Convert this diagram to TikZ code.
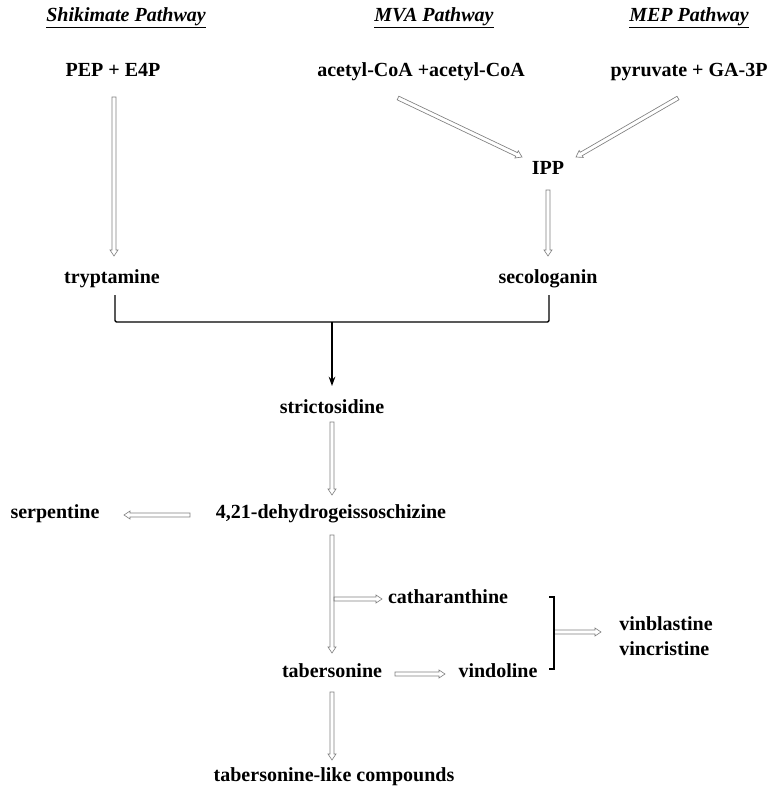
\documentclass[tikz,border=0pt]{standalone}
\usepackage{fontspec}
\setmainfont{Liberation Serif}
\usetikzlibrary{arrows.meta,calc}
\tikzset{
  fnt/.style={font=\fontsize{15}{18.75}\selectfont\bfseries, inner sep=1pt},
  lbl/.style={fnt, text height=0.7em, text depth=0.22em},
  ttl/.style={font=\fontsize{15}{17}\selectfont\bfseries\itshape, inner sep=1pt},
  hol/.style={draw=black!50, line width=0.5pt, line join=miter, to path={
    let \p1=($(\tikztostart)!1.5pt!90:(\tikztotarget)$),
        \p2=($(\tikztostart)!1.5pt!-90:(\tikztotarget)$),
        \p3=($(\tikztotarget)!4.5pt!(\tikztostart)$) in
    (\p1) -- ($(\p3)!1.5pt!90:(\tikztotarget)$) -- ($(\p3)!3pt!90:(\tikztotarget)$)
    -- (\tikztotarget) -- ($(\p3)!3pt!-90:(\tikztotarget)$) -- ($(\p3)!1.5pt!-90:(\tikztotarget)$)
    -- (\p2) -- cycle}},
  blk/.style={draw=black, line width=1.1pt},
}
\begin{document}
\begin{tikzpicture}[x=0.75pt, y=-0.75pt]
\useasboundingbox (0,0) rectangle (769,788);
% titles
\node[ttl] (t1) at (126,18) {\underline{Shikimate Pathway}};
\node[ttl] (t2) at (434,18) {\underline{MVA Pathway}};
\node[ttl] (t3) at (689,18) {\underline{MEP Pathway}};
% nodes
\node[lbl] (pep) at (113,73) {PEP + E4P};
\node[lbl] (acc) at (421,73) {acetyl-CoA +acetyl-CoA};
\node[lbl] (pyr) at (689,73) {pyruvate + GA-3P};
\node[lbl] (ipp) at (548,171) {IPP};
\node[lbl] (try) at (112,280) {tryptamine};
\node[lbl] (sec) at (548,280) {secologanin};
\node[lbl] (str) at (332,410) {strictosidine};
\node[lbl] (deh) at (331,515) {4,21-dehydrogeissoschizine};
\node[lbl] (ser) at (55,515) {serpentine};
\node[lbl] (cat) at (448,600) {catharanthine};
\node[lbl] (tab) at (332,674) {tabersonine};
\node[lbl] (vin) at (498,674) {vindoline};
\node[fnt, align=left, inner sep=0pt] (vbl) at (666,636) {vinblastine\\vincristine};
\node[lbl] (tlc) at (334,778) {tabersonine-like compounds};
% coordinates
\coordinate (pepA) at (114,97);
\coordinate (tryA) at (114,256);
\coordinate (accA) at (398,98);
\coordinate (ippL) at (522,157);
\coordinate (pyrA) at (678,98);
\coordinate (ippR) at (576,157);
\coordinate (ippB) at (548,190);
\coordinate (secA) at (548,256);
\coordinate (bL) at (115,295);
\coordinate (bLb) at (115,322);
\coordinate (bR) at (549,295);
\coordinate (bRb) at (549,322);
\coordinate (bM) at (332,322);
\coordinate (strT) at (332,386);
\coordinate (strB) at (332,422);
\coordinate (dehT) at (332,495);
\coordinate (dehL) at (190,515);
\coordinate (serR) at (124,515);
\coordinate (dehB) at (332,535);
\coordinate (tabT) at (332,653);
\coordinate (brS) at (334,599);
\coordinate (catW) at (382,599);
\coordinate (tabR) at (395,674);
\coordinate (vinL) at (445,674);
\coordinate (kT) at (554,597);
\coordinate (kB) at (554,669);
\coordinate (kM) at (554,632);
\coordinate (vblL) at (601,632);
\coordinate (tabB) at (332,692);
\coordinate (tlcT) at (332,760);
% hollow arrows
\draw[hol] (pepA) to (tryA);
\draw[hol] (accA) to (ippL);
\draw[hol] (pyrA) to (ippR);
\draw[hol] (ippB) to (secA);
\draw[hol] (strB) to (dehT);
\draw[hol] (dehL) to (serR);
\draw[hol] (dehB) to (tabT);
\draw[hol] (brS) to (catW);
\draw[hol] (tabR) to (vinL);
\draw[hol] (kM) to (vblL);
\draw[hol] (tabB) to (tlcT);
% merge bracket
\draw[blk, rounded corners=1pt] (bL) -- (bLb) -- (bRb) -- (bR);
\draw[blk, -{Stealth[length=7pt, width=5pt]}] (bM) -- (strT);
% right bracket
\draw[blk, line width=1pt] ([xshift=-3.5pt]kT) -- (kT) -- (kB) -- ([xshift=-3.5pt]kB);
\end{tikzpicture}
\end{document}
